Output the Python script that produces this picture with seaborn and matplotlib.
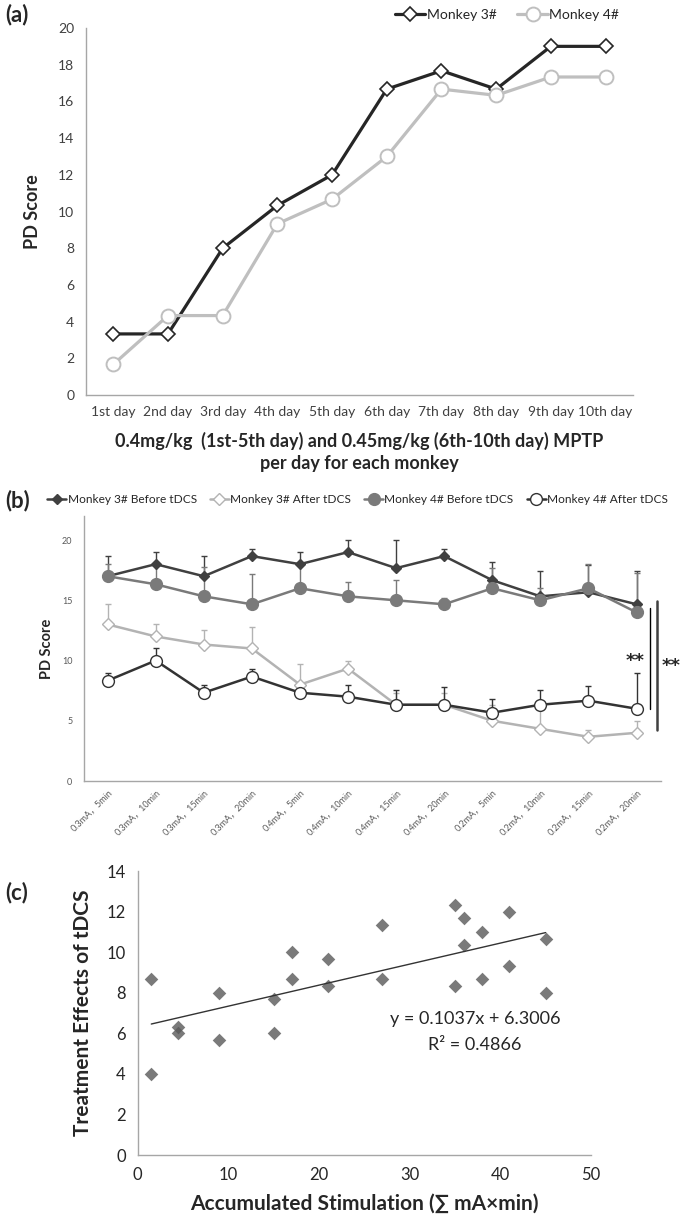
import numpy as np
import pandas as pd
import seaborn as sns
import matplotlib.pyplot as plt

# ---- panel (a): PD score during MPTP induction
days = ['1st day', '2nd day', '3rd day', '4th day', '5th day',
        '6th day', '7th day', '8th day', '9th day', '10th day']
monkey3_mptp = [3.33, 3.33, 8, 10.33, 12, 16.67, 17.67, 16.67, 19, 19]
monkey4_mptp = [1.67, 4.33, 4.33, 9.33, 10.67, 13, 16.67, 16.33, 17.33, 17.33]

# ---- panel (b): PD score before / after tDCS
conditions = ['0.3mA，5min', '0.3mA，10min', '0.3mA，15min', '0.3mA，20min',
              '0.4mA，5min', '0.4mA，10min', '0.4mA，15min', '0.4mA，20min',
              '0.2mA，5min', '0.2mA，10min', '0.2mA，15min', '0.2mA，20min']
m3_before = [17, 18, 17, 18.67, 18, 19, 17.67, 18.67, 16.67, 15.33, 15.67, 14.67]
m3_before_err = [1.7, 1.0, 1.7, 0.6, 1.0, 1.0, 2.33, 0.6, 1.5, 2.1, 2.3, 2.8]
m3_after = [13, 12, 11.33, 11, 8, 9.33, 6.33, 6.33, 5, 4.33, 3.67, 4]
m3_after_err = [1.7, 1.0, 1.2, 1.8, 1.7, 0.6, 1.0, 1.0, 1.3, 1.7, 0.6, 1.0]
m4_before = [17, 16.33, 15.33, 14.67, 16, 15.33, 15, 14.67, 16, 15, 16, 14]
m4_before_err = [1.0, 1.67, 2.4, 2.5, 2.0, 1.17, 1.7, 0.5, 1.7, 1.0, 2.0, 3.3]
m4_after = [8.33, 10, 7.33, 8.67, 7.33, 7, 6.33, 6.33, 5.67, 6.33, 6.67, 6]
m4_after_err = [0.6, 1.0, 0.6, 0.6, 0.5, 1.0, 1.2, 1.5, 1.1, 1.2, 1.2, 3.0]

# ---- panel (c): treatment effect vs accumulated stimulation
accumulated = [1.5, 4.5, 9, 15, 17, 21, 27, 35, 36, 38, 41, 45]
effect_m3 = [4, 6, 5.67, 7.67, 10, 9.67, 11.33, 12.33, 11.67, 11, 12, 10.67]
effect_m4 = [8.67, 6.33, 8, 6, 8.67, 8.33, 8.67, 8.33, 10.33, 8.67, 9.33, 8]

sns.set_style('white')
plt.rcParams['font.family'] = ['Lato', 'Noto Sans CJK SC', 'DejaVu Sans']
plt.rcParams['axes.edgecolor'] = '#a6a6a6'
plt.rcParams['axes.linewidth'] = 1.0

fig = plt.figure(figsize=(6.85, 12.23), dpi=100)
ax_a = fig.add_axes([0.1255, 0.677, 0.7985, 0.3001])
ax_b = fig.add_axes([0.122, 0.3614, 0.8423, 0.2167])
ax_c = fig.add_axes([0.201, 0.0556, 0.6618, 0.2322])

# ---------------- (a)
pos_a = np.arange(len(days))
sns.lineplot(x=pos_a, y=monkey3_mptp, ax=ax_a, color='#262626', lw=2.3,
             marker='D', markersize=7, markerfacecolor='white',
             markeredgecolor='#262626', markeredgewidth=1.2, label='Monkey 3#')
sns.lineplot(x=pos_a, y=monkey4_mptp, ax=ax_a, color='#bfbfbf', lw=2.3,
             marker='o', markersize=10, markerfacecolor='white',
             markeredgecolor='#bfbfbf', markeredgewidth=1.4, label='Monkey 4#')
ax_a.set_xlim(-0.5, len(days) - 0.5)
ax_a.set_ylim(0, 20)
ax_a.set_yticks(range(0, 21, 2))
ax_a.set_xticks(pos_a)
ax_a.set_xticklabels(days)
ax_a.set_xticks(np.arange(-0.5, len(days), 1), minor=True)
ax_a.tick_params(axis='x', which='major', length=0, labelsize=10, labelcolor='#404040', pad=8)
ax_a.tick_params(axis='x', which='minor', length=5, color='#a6a6a6', direction='out')
ax_a.tick_params(axis='y', length=5, color='#a6a6a6', direction='out', labelsize=10,
                 labelcolor='#404040')
ax_a.set_ylabel('PD Score', fontsize=13, fontweight='bold', labelpad=12)
ax_a.set_xlabel('0.4mg/kg  (1st-5th day) and 0.45mg/kg (6th-10th day) MPTP\nper day for each monkey',
                fontsize=13, fontweight='bold', labelpad=10, linespacing=1.35)
sns.despine(ax=ax_a)
ax_a.legend(loc='center', bbox_to_anchor=(0.74, 0.988), bbox_transform=fig.transFigure,
            ncol=2, frameon=False, fontsize=10, handlelength=2.2, columnspacing=1.5,
            handletextpad=0.1)

# ---------------- (b)
pos_b = np.arange(len(conditions))
series_b = [
    (m3_before, m3_before_err, 'Monkey 3# Before tDCS', '#404040', 'D', 5.5, '#404040'),
    (m3_after, m3_after_err, 'Monkey 3# After tDCS', '#b3b3b3', 'D', 6, 'white'),
    (m4_before, m4_before_err, 'Monkey 4# Before tDCS', '#7a7a7a', 'o', 8.5, '#7a7a7a'),
    (m4_after, m4_after_err, 'Monkey 4# After tDCS', '#333333', 'o', 8.5, 'white'),
]
for vals, err, name, col, mk, ms, face in series_b:
    ax_b.errorbar(pos_b, vals, yerr=[np.zeros(len(err)), err], fmt='none',
                  ecolor=col, elinewidth=1.0, capsize=2, capthick=1.0, zorder=1)
    sns.lineplot(x=pos_b, y=vals, ax=ax_b, color=col, lw=1.8, marker=mk,
                 markersize=ms, markerfacecolor=face, markeredgecolor=col,
                 markeredgewidth=1.0, label=name, zorder=3)
ax_b.set_xlim(-0.5, len(conditions) - 0.5)
ax_b.set_ylim(0, 22)
ax_b.set_yticks([0, 5, 10, 15, 20])
ax_b.set_xticks(pos_b)
ax_b.set_xticklabels(conditions, rotation=45, ha='right', rotation_mode='anchor',
                     fontsize=6.5, color='#595959')
ax_b.tick_params(axis='x', length=0, pad=5)
ax_b.tick_params(axis='y', length=0, labelsize=6.5, labelcolor='#595959', pad=8)
ax_b.set_ylabel('PD Score', fontsize=10.5, fontweight='bold', labelpad=6)
ax_b.set_xlabel('')
sns.despine(ax=ax_b)
ax_b.legend(loc='center', bbox_to_anchor=(0.522, 0.5915), bbox_transform=fig.transFigure,
            ncol=4, frameon=False, fontsize=8.6, handlelength=1.6, columnspacing=1.1,
            handletextpad=0.1)

# significance markers
ax_b.plot([11.28, 11.28], [5.95, 14.35], color='black', lw=1.0, clip_on=False)
ax_b.plot([11.43, 11.43], [4.2, 14.95], color='#404040', lw=1.8, clip_on=False)
ax_b.text(10.97, 10.0, '**', fontsize=13, fontweight='bold', ha='center', va='center',
          family='DejaVu Sans')
ax_b.text(11.72, 9.57, '**', fontsize=13, fontweight='bold', ha='center', va='center',
          family='DejaVu Sans', clip_on=False)

# ---------------- (c)
df_c = pd.DataFrame({
    'accumulated': accumulated + accumulated,
    'effect': effect_m3 + effect_m4,
})
sns.regplot(data=df_c, x='accumulated', y='effect', ax=ax_c, ci=None, marker='D',
            scatter_kws={'s': 48, 'color': '#595959', 'linewidths': 0},
            line_kws={'color': '#333333', 'lw': 1.0})
ax_c.set_xlim(0, 50)
ax_c.set_ylim(0, 14)
ax_c.set_xticks(range(0, 51, 10))
ax_c.set_yticks(range(0, 15, 2))
ax_c.tick_params(axis='both', length=5, color='#a6a6a6', direction='out', labelsize=12,
                 labelcolor='#262626')
ax_c.set_xlabel('Accumulated Stimulation (∑ mA×min)', fontsize=15, fontweight='bold',
                labelpad=8, family=['Lato', 'DejaVu Sans'])
ax_c.set_ylabel('Treatment Effects of tDCS', fontsize=15, fontweight='bold', labelpad=10)
sns.despine(ax=ax_c)
ax_c.text(37.2, 6.7, 'y = 0.1037x + 6.3006', fontsize=13, ha='center', va='center')
ax_c.text(37.2, 5.43, 'R² = 0.4866', fontsize=13, ha='center', va='center')

# panel letters
fig.text(0.007, 0.988, '(a)', fontsize=16, fontweight='bold', va='center')
fig.text(0.007, 0.591, '(b)', fontsize=16, fontweight='bold', va='center')
fig.text(0.007, 0.270, '(c)', fontsize=16, fontweight='bold', va='center')

fig.savefig('out.png', dpi=100)
